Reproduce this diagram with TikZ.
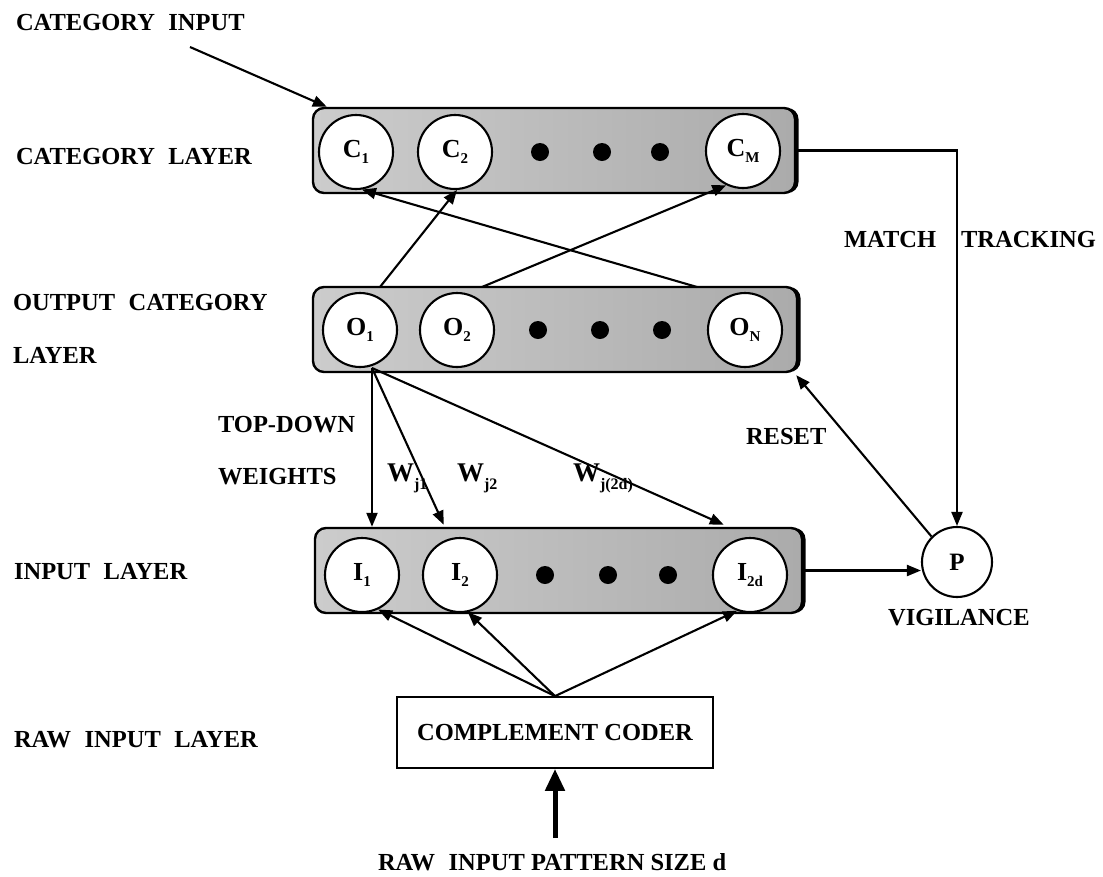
\documentclass[tikz,border=0pt]{standalone}
\usepackage{fontspec}
\setmainfont{Liberation Serif}
\usetikzlibrary{arrows.meta,calc,shadows}
\newcommand{\nsub}[2]{{\fontsize{26}{26}\selectfont\bfseries #1}{\fontsize{15}{15}\selectfont\bfseries\raisebox{-6pt}{#2}}}
\newcommand{\wsub}[2]{{\fontsize{27}{27}\selectfont\bfseries #1}{\fontsize{16}{16}\selectfont\bfseries\raisebox{-8pt}{#2}}}
\newcommand{\wsp}{\hspace{0.55em}}
\begin{document}
\begin{tikzpicture}[x=1pt,y=-1pt, line width=2.1pt, >={Triangle[length=14pt,width=11pt]},
  lbl/.style={font=\fontsize{24.5}{24.5}\selectfont\bfseries, anchor=west, inner sep=0pt},
  layerbox/.style={draw, line width=2.4pt, rounded corners=11pt, left color=black!20, middle color=black!38, right color=black!33,
     general shadow={fill=black, shadow xshift=3.5pt, shadow yshift=0pt}, inner sep=0pt},
  neuron/.style={circle, draw, fill=white, minimum size=74pt, inner sep=0pt},
  dotn/.style={circle, fill=black, minimum size=18pt, inner sep=0pt},
  coder/.style={draw, line width=1.8pt, minimum width=316pt, minimum height=71pt, inner sep=0pt}]
\useasboundingbox (0,0) rectangle (1103,876);

% layer boxes
\node[layerbox, minimum width=482pt, minimum height=85pt] (Cbox) at (554,150.5) {};
\node[layerbox, minimum width=484pt, minimum height=85pt] (Obox) at (555,329.5) {};
\node[layerbox, minimum width=487pt, minimum height=85pt] (Ibox) at (558.5,570.5) {};

% category layer
\node[neuron] (C1) at (356,152) {\nsub{C}{1}};
\node[neuron] (C2) at (455,152) {\nsub{C}{2}};
\node[dotn] (cd1) at (540,152) {};
\node[dotn] (cd2) at (602,152) {};
\node[dotn] (cd3) at (660,152) {};
\node[neuron] (CM) at (743,151) {\nsub{C}{M}};

% output layer
\node[neuron] (O1) at (360,330) {\nsub{O}{1}};
\node[neuron] (O2) at (457,330) {\nsub{O}{2}};
\node[dotn] (od1) at (538,330) {};
\node[dotn] (od2) at (600,330) {};
\node[dotn] (od3) at (662,330) {};
\node[neuron] (ON) at (745,330) {\nsub{O}{N}};

% input layer
\node[neuron] (I1) at (362,575) {\nsub{I}{1}};
\node[neuron] (I2) at (460,575) {\nsub{I}{2}};
\node[dotn] (id1) at (545,575) {};
\node[dotn] (id2) at (608,575) {};
\node[dotn] (id3) at (668,575) {};
\node[neuron] (I2d) at (750,575) {\nsub{I}{2d}};

% vigilance
\node[circle, draw, fill=white, minimum size=70pt, inner sep=0pt] (P) at (957,562) {\fontsize{25}{25}\selectfont\bfseries P};

% complement coder
\node[coder] (CC) at (555,732.5) {\fontsize{24.5}{24.5}\selectfont\bfseries COMPLEMENT CODER};

% labels
\node[lbl] (tCI) at (15,23) {CATEGORY\wsp INPUT};
\node[lbl] (tCL) at (15,157) {CATEGORY\wsp LAYER};
\node[lbl] (tOC) at (12,303) {OUTPUT\wsp CATEGORY};
\node[lbl] (tOL) at (12,355) {LAYER};
\node[lbl] (tTD) at (217,425) {TOP-DOWN};
\node[lbl] (tWE) at (217,477) {WEIGHTS};
\node[lbl] (tIL) at (13,572) {INPUT\wsp LAYER};
\node[lbl] (tRL) at (13,740) {RAW\wsp INPUT\wsp LAYER};
\node[lbl] (tMA) at (843,240) {MATCH};
\node[lbl] (tTR) at (960,240) {TRACKING};
\node[lbl] (tRE) at (745,437) {RESET};
\node[lbl] (tVI) at (887,618) {VIGILANCE};
\node[lbl] (tRP) at (377,862) {RAW\wsp INPUT PATTERN SIZE d};
\node[anchor=west, inner sep=0pt] (w1) at (386,478) {\wsub{W}{j1}};
\node[anchor=west, inner sep=0pt] (w2) at (456,478) {\wsub{W}{j2}};
\node[anchor=west, inner sep=0pt] (w3) at (572,478) {\wsub{W}{j(2d)}};

% category input
\coordinate (ciS) at (190,47);
\draw[->] (ciS) -- ($(Cbox.north west)+(15,0)$);

% output -> category cross connections
\coordinate (o1t) at (380,287);
\coordinate (o2t) at (482,287);
\coordinate (ont) at (697,287);
\draw[->] (o1t) -- (C2.-87);
\draw[->] (o2t) -- (CM.-116);
\draw[->] (ont) -- (C1.-81);

% top-down weights
\coordinate (ow) at (372,368);
\draw[->] (ow) -- (ow |- Ibox.north);
\draw[->] (ow) -- ($(Ibox.north west)+(130,-2)$);
\draw[->] (ow) -- ($(Ibox.north west)+(410,-2)$);

% complement coder -> input
\draw[->] (CC.north) -- (I1.-65);
\draw[->] (CC.north) -- (I2.-78);
\draw[->] (CC.north) -- (I2d.-110);

% raw input
\coordinate (rawS) at (555,838);
\draw[-{Triangle[length=22pt,width=19pt]}, line width=5pt] (rawS) -- (CC.south);

% input -> vigilance
\draw[->] (Ibox.east) -- (P.west |- Ibox.east);

% match tracking
\draw[->] (Cbox.east) -- (Cbox.east -| P.north) -- (P.north);

% reset
\draw[->] (P.135) -- ($(Obox.south east)+(-2,2)$);
\end{tikzpicture}
\end{document}
